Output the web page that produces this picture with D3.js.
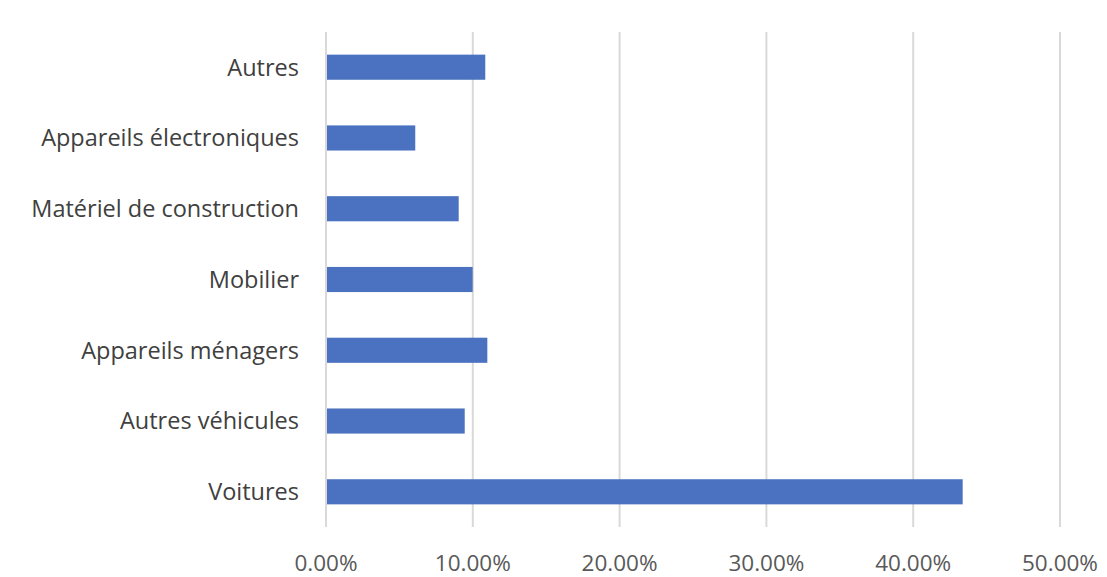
<!doctype html>
<html>
<head>
<meta charset="utf-8">
<script src="https://cdn.jsdelivr.net/npm/d3@7"></script>
<style>
  body { margin: 0; background: #fff; }
  text { font-family: "Open Sans", "Liberation Sans", Arial, sans-serif; }
</style>
</head>
<body>
<svg width="1107" height="577"></svg>
<script>
// categories from top to bottom
var categories = ["Autres", "Appareils électroniques", "Matériel de construction", "Mobilier", "Appareils ménagers", "Autres véhicules", "Voitures"];
var values = [0.1085, 0.0608, 0.0904, 0.0999, 0.1099, 0.0945, 0.4337];
var ticks = [0, 0.1, 0.2, 0.3, 0.4, 0.5];

var svg = d3.select("svg"),
    plotLeft = 326, plotRight = 1060, plotTop = 32, plotBottom = 527;

var x = d3.scaleLinear().domain([0, 0.5]).range([plotLeft, plotRight]);
var y = d3.scaleBand().domain(categories).range([plotTop, plotBottom]).paddingInner(0.645).paddingOuter(0.32);

// gridlines
svg.append("g").selectAll("line")
    .data(ticks).enter().append("line")
    .attr("x1", function(d) { return x(d); })
    .attr("x2", function(d) { return x(d); })
    .attr("y1", plotTop).attr("y2", plotBottom)
    .attr("stroke", "#d9d9d9").attr("stroke-width", 2);

// bars
svg.append("g").selectAll("rect")
    .data(values).enter().append("rect")
    .attr("x", x(0) + 1)
    .attr("y", function(d, i) { return y(categories[i]); })
    .attr("width", function(d) { return x(d) - x(0) - 1; })
    .attr("height", y.bandwidth())
    .attr("fill", "#4a72c0");

// category labels
svg.append("g").selectAll("text")
    .data(categories).enter().append("text")
    .attr("x", 299)
    .attr("y", function(d) { return y(d) + y.bandwidth() / 2; })
    .attr("dy", "0.36em")
    .attr("text-anchor", "end")
    .attr("font-size", 23.5)
    .attr("fill", "#404040")
    .text(function(d) { return d; });

// tick labels
svg.append("g").selectAll("text")
    .data(ticks).enter().append("text")
    .attr("x", function(d) { return x(d); })
    .attr("y", 571)
    .attr("text-anchor", "middle")
    .attr("font-size", 22.5)
    .attr("fill", "#595959")
    .text(function(d) { return d3.format(".2%")(d); });
</script>
</body>
</html>
